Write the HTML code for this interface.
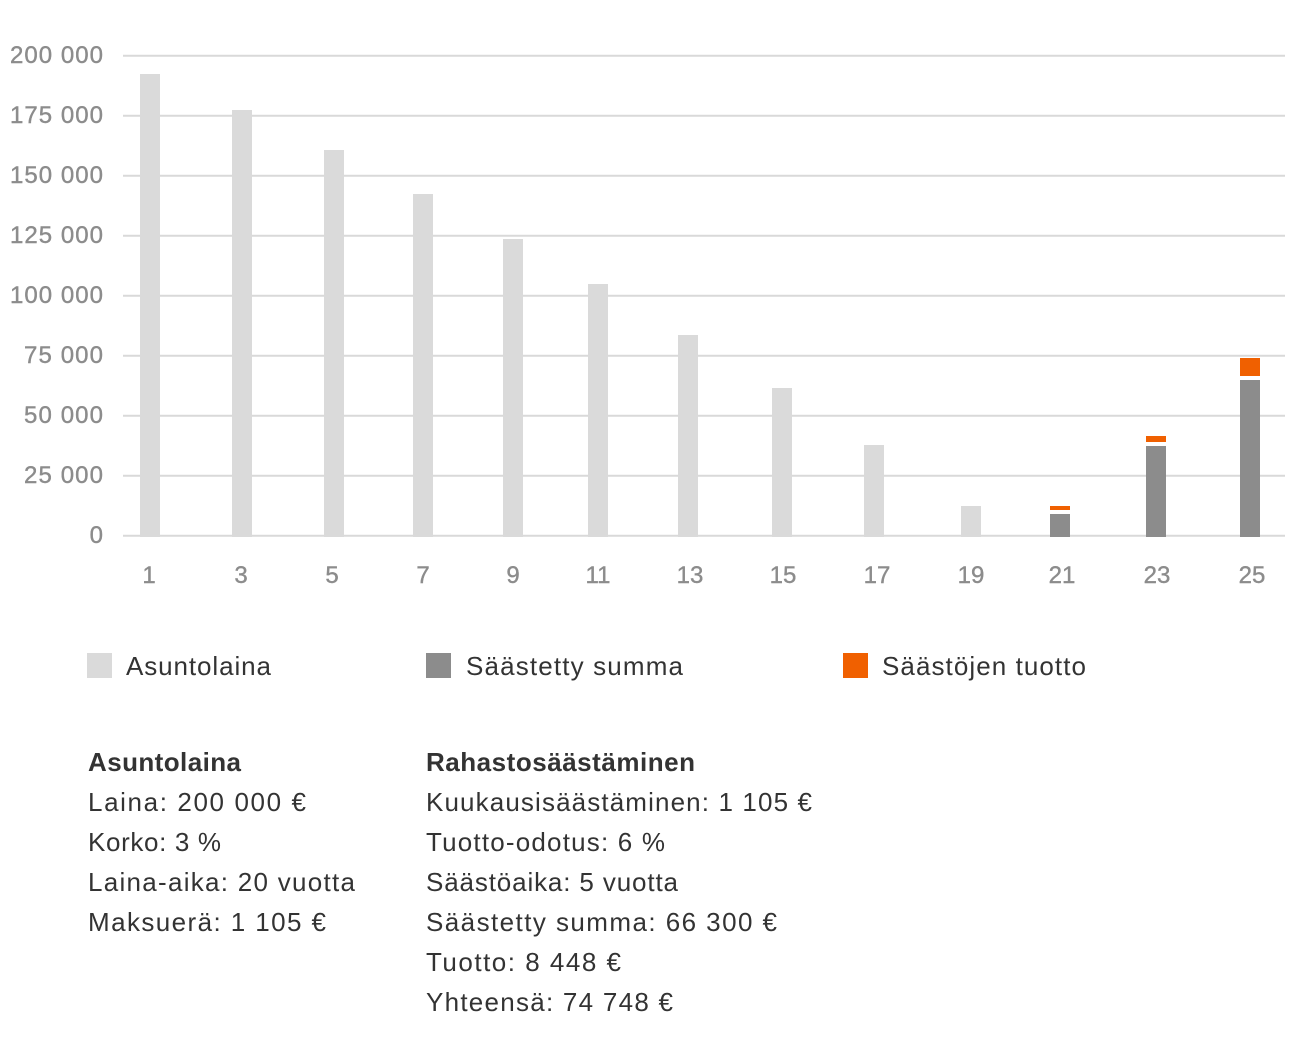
<!DOCTYPE html>
<html><head><meta charset="utf-8"><style>
body{margin:0;background:#fff;width:1314px;height:1048px;overflow:hidden;font-family:"Liberation Sans",sans-serif}
</style></head><body>
<svg width="1314" height="1048" xmlns="http://www.w3.org/2000/svg" font-family="Liberation Sans, sans-serif">
<g stroke="#d9d9d9" stroke-width="2">
<line x1="123" x2="1285" y1="55.7" y2="55.7"/><line x1="123" x2="1285" y1="115.7" y2="115.7"/>
<line x1="123" x2="1285" y1="175.7" y2="175.7"/><line x1="123" x2="1285" y1="235.7" y2="235.7"/>
<line x1="123" x2="1285" y1="295.7" y2="295.7"/><line x1="123" x2="1285" y1="355.7" y2="355.7"/>
<line x1="123" x2="1285" y1="415.7" y2="415.7"/><line x1="123" x2="1285" y1="475.7" y2="475.7"/>
<line x1="123" x2="1285" y1="535.7" y2="535.7"/>
</g>
<g fill="#8c8c8c" font-size="24" text-anchor="end" stroke="#8c8c8c" stroke-width="0.4">
<text x="103" y="63" textLength="93">200 000</text><text x="103" y="123" textLength="93">175 000</text><text x="103" y="183" textLength="93">150 000</text>
<text x="103" y="243" textLength="93">125 000</text><text x="103" y="303" textLength="93">100 000</text><text x="103" y="363" textLength="79">75 000</text>
<text x="103" y="423" textLength="79">50 000</text><text x="103" y="483" textLength="79">25 000</text><text x="103" y="543">0</text>
</g>
<g fill="#dadada">
<rect x="140" y="74" width="20" height="463"/><rect x="232" y="110" width="20" height="427"/>
<rect x="324" y="150" width="20" height="387"/><rect x="413" y="194" width="20" height="343"/>
<rect x="503" y="239" width="20" height="298"/><rect x="588" y="284" width="20" height="253"/>
<rect x="678" y="335" width="20" height="202"/><rect x="772" y="388" width="20" height="149"/>
<rect x="864" y="445" width="20" height="92"/><rect x="961" y="506" width="20" height="31"/>
</g>
<g fill="#8c8c8c">
<rect x="1050" y="514" width="20" height="23"/><rect x="1146" y="446" width="20" height="91"/>
<rect x="1240" y="380" width="20" height="157"/>
</g>
<g fill="#f06000">
<rect x="1050" y="506" width="20" height="4"/><rect x="1146" y="436" width="20" height="6"/>
<rect x="1240" y="358" width="20" height="18"/>
</g>
<g fill="#8c8c8c" font-size="24" text-anchor="middle" stroke="#8c8c8c" stroke-width="0.4">
<text x="149" y="583">1</text><text x="241" y="583">3</text><text x="332" y="583">5</text><text x="423" y="583">7</text>
<text x="513" y="583">9</text><text x="598" y="583">11</text><text x="690" y="583">13</text><text x="783" y="583">15</text>
<text x="877" y="583">17</text><text x="971" y="583">19</text><text x="1062" y="583">21</text><text x="1157" y="583">23</text>
<text x="1252" y="583">25</text>
</g>
<rect x="87" y="653" width="25" height="25" fill="#dadada"/>
<rect x="426" y="653" width="25" height="25" fill="#8c8c8c"/>
<rect x="843" y="653" width="25" height="25" fill="#f06000"/>
<g fill="#333" font-size="26">
<text x="126" y="675" textLength="145">Asuntolaina</text><text x="466" y="675" textLength="217">Säästetty summa</text><text x="882" y="675" textLength="204">Säästöjen tuotto</text>
<text x="88" y="771" font-weight="bold" textLength="153">Asuntolaina</text>
<text x="88" y="811" textLength="218">Laina: 200 000 €</text><text x="88" y="851" textLength="133">Korko: 3 %</text>
<text x="88" y="891" textLength="267">Laina-aika: 20 vuotta</text><text x="88" y="931" textLength="238">Maksuerä: 1 105 €</text>
<text x="426" y="771" font-weight="bold" textLength="269">Rahastosäästäminen</text>
<text x="426" y="811" textLength="386">Kuukausisäästäminen: 1 105 €</text><text x="426" y="851" textLength="239">Tuotto-odotus: 6 %</text>
<text x="426" y="891" textLength="252">Säästöaika: 5 vuotta</text><text x="426" y="931" textLength="351">Säästetty summa: 66 300 €</text>
<text x="426" y="971" textLength="195">Tuotto: 8 448 €</text><text x="426" y="1011" textLength="247">Yhteensä: 74 748 €</text>
</g>
</svg>
</body></html>
